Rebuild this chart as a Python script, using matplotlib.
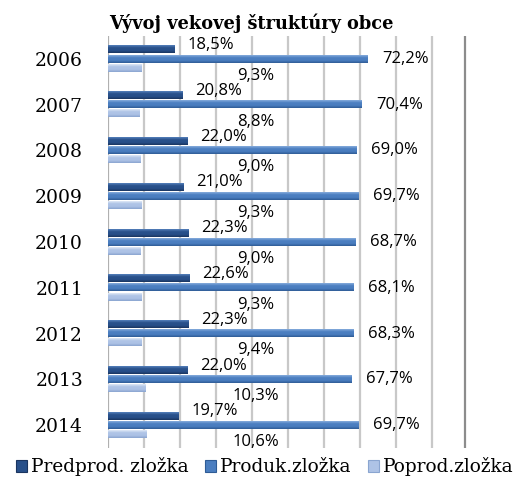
import matplotlib
matplotlib.use('Agg')
import matplotlib.pyplot as plt
from matplotlib.colors import LinearSegmentedColormap
import numpy as np

# data
years = ['2006', '2007', '2008', '2009', '2010', '2011', '2012', '2013', '2014']
predprod = [18.5, 20.8, 22.0, 21.0, 22.3, 22.6, 22.3, 22.0, 19.7]
produk = [72.2, 70.4, 69.0, 69.7, 68.7, 68.1, 68.3, 67.7, 69.7]
poprod = [9.3, 8.8, 9.0, 9.3, 9.0, 9.3, 9.4, 10.3, 10.6]
series_names = ['Predprod. zložka', 'Produk.zložka', 'Poprod.zložka']

# (highlight, base, shadow)
colors = [('#5580bb', '#28508a', '#1a3560'),
          ('#86acdc', '#4b7ec0', '#2f5c96'),
          ('#dfe8f6', '#aec3e6', '#8aa5d0')]

fig = plt.figure(figsize=(5.29, 4.79), dpi=100)
ax = fig.add_axes([108 / 529, 1 - 448 / 479, 360 / 529, 412 / 479])

y = np.arange(len(years))
offsets = [-0.2, 0.0, 0.2]
h = 0.16
grad = np.linspace(0, 1, 32).reshape(-1, 1)


def fmt(v):
    return ('%.1f' % v).replace('.', ',') + '%'


def draw_bars(vals, off, cols):
    cmap = LinearSegmentedColormap.from_list('b', [cols[0], cols[1], cols[1], cols[2]])
    for yi, v in zip(y, vals):
        ax.imshow(grad, cmap=cmap, aspect='auto', interpolation='bilinear',
                  extent=[0, v, yi + off + h / 2, yi + off - h / 2], zorder=3)


for vals, off, cols in zip([predprod, produk, poprod], offsets, colors):
    draw_bars(vals, off, cols)

lab_font = dict(family='Open Sans', fontsize=12, color='black', zorder=6)
for i in range(len(years)):
    ax.text(predprod[i] + 10, y[i] - 0.3, fmt(predprod[i]), ha='center', va='center', **lab_font)
    ax.text(produk[i] + 4, y[i], fmt(produk[i]), ha='left', va='center', **lab_font)
    ax.text(41, y[i] + 0.37, fmt(poprod[i]), ha='center', va='center', **lab_font)

ax.set_xlim(0, 100)
ax.set_ylim(8.5, -0.5)
ax.set_yticks(y)
ax.set_yticklabels(years, family='DejaVu Serif', fontsize=13.5)
ax.tick_params(axis='y', length=0, pad=18)
ax.set_xticks([])

for gx in range(10, 100, 10):
    ax.axvline(gx, color='#c8c8c8', lw=1.6, zorder=1)
ax.axvline(99.2, color='#8c8c8c', lw=1.6, zorder=1)
ax.axvline(0, color='#b0b0b0', lw=1.6, zorder=2)
for s in ax.spines.values():
    s.set_visible(False)

fig.text(251 / 529, 1 - 23 / 479, 'Vývoj vekovej štruktúry obce', ha='center', va='center',
         family='DejaVu Serif', fontweight='bold', fontsize=12.8)

# legend
handles = [plt.Rectangle((0, 0), 1, 1, facecolor=c[1], edgecolor=c[2], lw=0.8) for c in colors]
fig.legend(handles, series_names, loc='center', bbox_to_anchor=(0.5, 1 - 467 / 479),
           ncol=3, frameon=False, handlelength=0.6, handleheight=0.6, handletextpad=0.2,
           columnspacing=0.9, borderaxespad=0, borderpad=0,
           prop={'family': 'DejaVu Serif', 'size': 13.3})

fig.savefig('out.png', dpi=100)
